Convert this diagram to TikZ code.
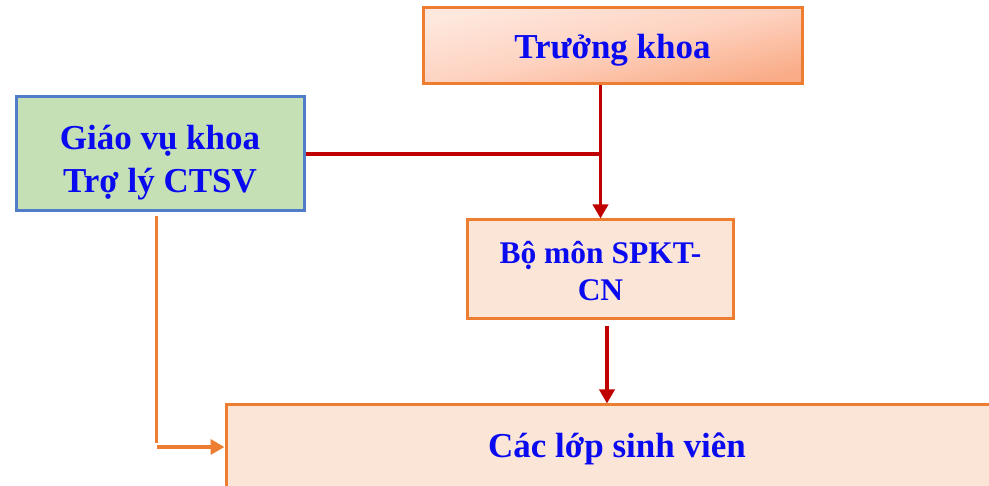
\documentclass[tikz,border=0pt]{standalone}
\usepackage{fontspec}
\setmainfont{Liberation Serif}
\usetikzlibrary{arrows.meta}
\definecolor{txtblue}{RGB}{10,10,240}
\definecolor{darkred}{RGB}{192,0,0}
\definecolor{orng}{RGB}{237,125,49}
\definecolor{peach}{RGB}{251,229,214}
\definecolor{peachlight}{RGB}{254,232,222}
\definecolor{peachmid}{RGB}{254,210,192}
\definecolor{salmon}{RGB}{249,172,135}
\definecolor{greenfill}{RGB}{197,224,180}
\definecolor{blueborder}{RGB}{80,125,200}
\begin{document}
\begin{tikzpicture}[x=1pt,y=-1pt,
  box/.style={draw=orng,line width=3pt,inner sep=0pt},
  label/.style={text=txtblue,align=center,inner sep=0pt,
    font=\bfseries\fontsize{35}{43}\selectfont},
  redline/.style={draw=darkred,line width=3.5pt},
  orangeline/.style={draw=orng,line width=3.5pt},
  tip/.style={-{Triangle[length=14pt,width=15pt]}}]
\useasboundingbox (0,0) rectangle (989,486);
\node[box,minimum width=379pt,minimum height=76pt,
  top color=peachlight,bottom color=salmon,middle color=peachmid,shading angle=12] (tk) at (612.5,46) {};
\node[label] (tktext) at (612.5,50) {Trưởng khoa};
\node[box,draw=blueborder,fill=greenfill,minimum width=288pt,minimum height=114pt] (gv) at (160,154) {};
\node[label] (gvtext) at (160,163) {Giáo vụ khoa\\Trợ lý CTSV};
\node[box,fill=peach,minimum width=266pt,minimum height=99pt] (bm) at (600.5,269.5) {};
\node[label,font=\bfseries\fontsize{31.5}{37}\selectfont] (bmtext) at (600.5,271) {Bộ môn SPKT-\\CN};
\node[box,fill=peach,minimum width=790pt,minimum height=90pt] (cl) at (621,450) {};
\node[label,anchor=base] (cltext) at (617,457) {Các lớp sinh viên};
\draw[redline,tip] (tk.south -| bm.north) -- (bm.north);
\draw[redline] (gv.east) -- (gv.east -| bm.north);
\coordinate (r1) at (607,326);
\draw[redline,tip] (r1) -- (r1 |- cl.north);
\coordinate (o1) at (156.5,216);
\coordinate (o2) at (156.5,443);
\coordinate (o3) at (156.5,447);
\draw[orangeline] (o1) -- (o2);
\draw[orangeline,tip] (o3) -- (o3 -| cl.west);
\end{tikzpicture}
\end{document}
